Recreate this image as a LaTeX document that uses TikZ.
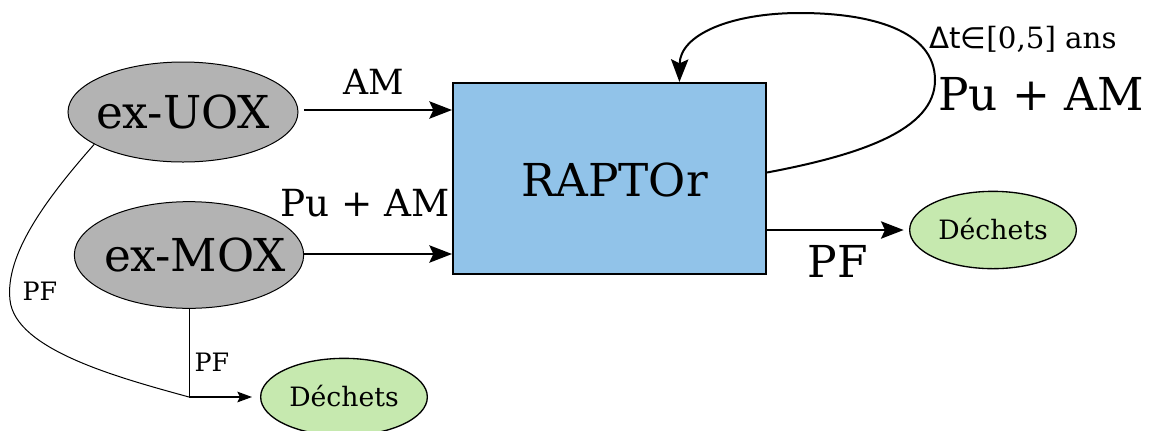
\documentclass[tikz,border=0pt]{standalone}
\usepackage{fontspec}
\setmainfont{DejaVu Serif}
\newfontfamily\dvsans{DejaVu Sans}
\usetikzlibrary{shapes.geometric,arrows.meta,calc}
\definecolor{grayfill}{HTML}{B3B3B3}
\definecolor{bluefill}{HTML}{91C3E9}
\definecolor{greenfill}{HTML}{C6E9AF}
\newcommand{\fs}[1]{\fontsize{#1}{#1}\selectfont}
\newcommand{\flattxt}[1]{\smash{\makebox[0pt]{\raisebox{-0.36em}{#1}}}}
\begin{document}
\begin{tikzpicture}[x=0.75pt,y=-0.75pt,
  source/.style={ellipse,draw,line width=0.75pt,fill=grayfill,inner sep=0pt,font=\fs{34}},
  waste/.style={ellipse,draw,line width=1pt,fill=greenfill,inner sep=0pt,minimum width=125pt,minimum height=58pt,font=\fs{20}},
  reactor/.style={rectangle,draw,line width=1.5pt,fill=bluefill,minimum width=234.75pt,minimum height=143.25pt,inner sep=0pt,font=\fs{34}},
  thick arr/.style={line width=1.5pt,-{Stealth[length=17pt,width=13pt,inset=3pt]}},
  thin arr/.style={line width=0.9pt,-{Stealth[length=11pt,width=8pt,inset=2pt]}},
  thin line/.style={line width=0.75pt},
  lbl/.style={inner sep=0pt}]
\useasboundingbox (0,0) rectangle (1153,430);
% nodes
\node[source,minimum width=172.5pt,minimum height=75pt] (uox) at (183,112) {\flattxt{ex-UOX}};
\node[source,minimum width=172pt,minimum height=80pt] (mox) at (189,255) {\flattxt{\hspace{9pt}ex-MOX}};
\node[reactor] (rap) at (609.5,178.5) {};
\node[lbl,font=\fs{34}] (raptxt) at (614.5,180) {RAPTOr};
\node[waste] (d1) at (993,230) {\flattxt{Déchets}};
\node[waste] (d2) at (344,397) {\flattxt{Déchets}};
% labels
\node[lbl,font=\fs{26}] (lam) at (374,82) {AM};
\node[lbl,font=\fs{28}] (lpam) at (365,203) {Pu + AM};
\node[lbl,font=\fs{33}] (lpf) at (838,261) {PF};
\node[lbl,font=\fs{22}] (ldt) at (1023,39) {{\dvsans Δt∈}[0,5] ans};
\node[lbl,font=\fs{34}] (lpam2) at (1041,94) {Pu + AM};
\node[lbl,font=\fs{19}] (lpf1) at (40,291) {PF};
\node[lbl,font=\fs{19}] (lpf2) at (212,362) {PF};
% connectors
\draw[thick arr,shorten <=4pt] (uox.east |- 0,110) -- (rap.west |- 0,110);
\draw[thick arr] (mox.east |- 0,254) -- (rap.west |- 0,254);
\draw[thick arr,shorten >=4pt] (rap.east |- d1.west) -- (d1.west);
\coordinate (loopstart) at ([yshift=4.5pt]rap.east);
\coordinate (loopend) at ($(rap.north west)!0.722!(rap.north east)$);
\draw[thick arr] (loopstart) .. controls (860,155) and (935,130) .. (935,80)
  .. controls (935,30) and (870,13) .. (800,13)
  .. controls (730,13) and (680,35) .. (loopend);
\coordinate (j) at (mox.south |- d2.west);
\draw[thin line] (mox.south) -- (j);
\draw[thin arr,shorten >=6pt] (j) -- (d2.west);
\draw[thin line] (uox.200) .. controls (45,200) and (5,255) .. (10,300)
  .. controls (15,350) and (120,378) .. (j);
\end{tikzpicture}
\end{document}
